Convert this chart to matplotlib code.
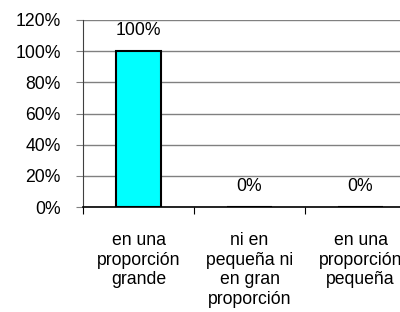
import matplotlib.pyplot as plt
from matplotlib.ticker import FixedLocator, NullFormatter

plt.rcParams["font.family"] = ["Liberation Sans", "DejaVu Sans"]

categories = ["en una\nproporción\ngrande",
              "ni en\npequeña ni\nen gran\nproporción",
              "en una\nproporción\npequeña"]
values = [100, 0, 0]
yticks = [0, 20, 40, 60, 80, 100, 120]

fs = 12.7

fig = plt.figure(figsize=(4, 3.12), dpi=100)
ax = fig.add_axes([83 / 400, 105 / 312, 333 / 400, 187 / 312])

x = list(range(len(categories)))
ax.bar(x, values, width=0.4, color="#00FFFF", edgecolor="black", linewidth=1.5, zorder=3)

for xi, v in zip(x, values):
    ax.annotate(f"{v}%", (xi, v), xytext=(0, 15), textcoords="offset points",
                ha="center", va="center", fontsize=fs)

ax.set_xlim(-0.5, 2.5)
ax.set_ylim(0, 120)
ax.set_yticks(yticks)
ax.set_yticklabels([f"{t}%" for t in yticks], fontsize=fs)
ax.yaxis.grid(True, color="#808080", linewidth=1, zorder=0)

# category boundaries as major ticks, names on minor ticks
ax.xaxis.set_major_locator(FixedLocator([-0.5, 0.5, 1.5, 2.5]))
ax.xaxis.set_major_formatter(NullFormatter())
ax.xaxis.set_minor_locator(FixedLocator(x))
ax.set_xticklabels(categories, minor=True, fontsize=fs, linespacing=1.2, va="top")
ax.tick_params(axis="x", which="minor", length=0, pad=18)
ax.tick_params(axis="x", which="major", length=5, direction="out", color="black")
ax.tick_params(axis="y", length=5, direction="out", color="#808080", pad=11)

for s in ["top", "right"]:
    ax.spines[s].set_visible(False)
ax.spines["left"].set_color("#404040")
ax.spines["bottom"].set_color("black")
ax.spines["bottom"].set_linewidth(1.2)

fig.savefig("out.png", dpi=100)
